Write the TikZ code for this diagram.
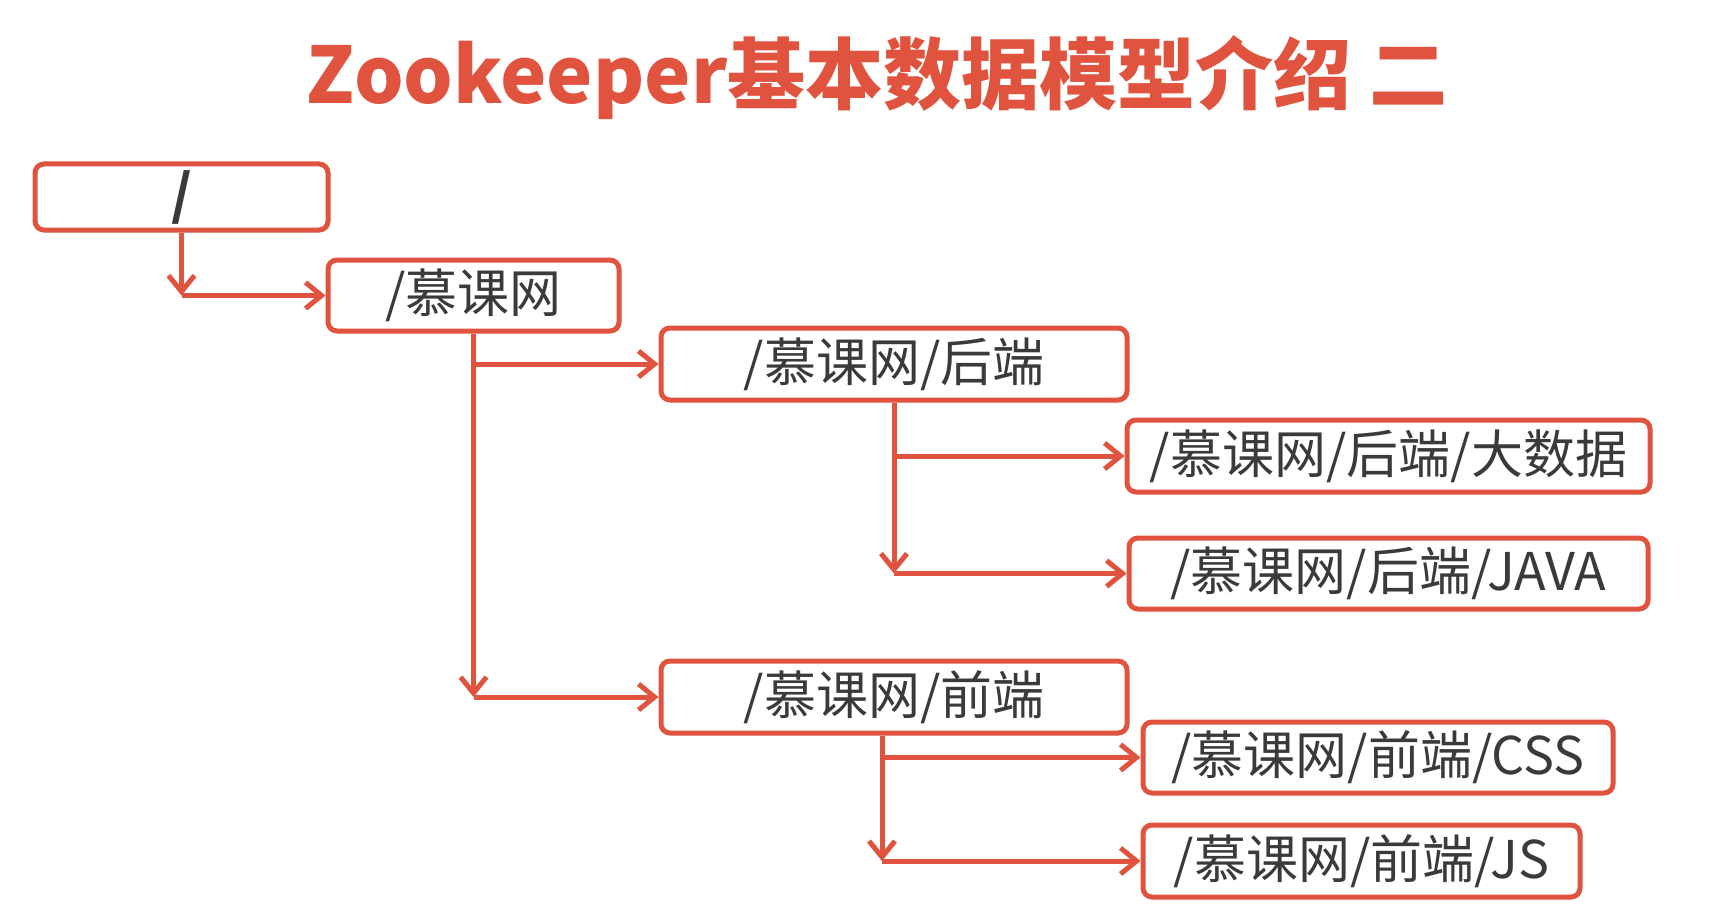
\documentclass[tikz,border=0pt]{standalone}
\usepackage{fontspec}
\setmainfont{Noto Sans CJK SC}
\usetikzlibrary{arrows.meta,shadows}
\definecolor{zred}{HTML}{E0533F}
\definecolor{ztext}{HTML}{3A3A3A}
\begin{document}
\begin{tikzpicture}[x=1pt,y=-1pt,
  box/.style={draw=zred, line width=5pt, rounded corners=9pt, fill=white, text=ztext,
    font=\fontsize{52}{56}\selectfont, inner sep=0pt, anchor=center,
    drop shadow={shadow xshift=2pt, shadow yshift=-2pt, opacity=0.18, fill=black}},
  conn/.style={draw=zred, line width=5pt, -{Straight Barb[length=16pt,width=26pt]}}
]
\fill[white] (0,0) rectangle (1715,912);
\useasboundingbox (0,0) rectangle (1715,912);

\node[text=zred, font=\fontsize{78}{80}\selectfont\bfseries] (title) at (877,78) {Zookeeper基本数据模型介绍 二};

\node[box, minimum width=293pt, minimum height=66pt, font=\fontsize{54}{56}\selectfont\bfseries] (root) at (181.5,197) {/};
\node[box, minimum width=291pt, minimum height=71pt] (b1) at (473.5,295.5) {/慕课网};
\node[box, minimum width=466pt, minimum height=72pt] (b2) at (894,364) {/慕课网/后端};
\node[box, minimum width=523pt, minimum height=72pt] (b3) at (1388.5,456) {/慕课网/后端/大数据};
\node[box, minimum width=519pt, minimum height=71pt] (b4) at (1388.5,573.5) {/慕课网/后端/JAVA};
\node[box, minimum width=466pt, minimum height=72pt] (b5) at (894,697) {/慕课网/前端};
\node[box, minimum width=470pt, minimum height=71pt] (b6) at (1378,757.5) {/慕课网/前端/CSS};
\node[box, minimum width=437pt, minimum height=72pt] (b7) at (1361.5,861) {/慕课网/前端/JS};

% root -> b1
\coordinate (c0) at (root.south |- b1.west);
\draw[conn] (root.south) -- (c0);
\draw[conn] (c0) -- (b1.west);

% b1 -> b2, b5
\coordinate (c1a) at (b1.south |- b2.west);
\coordinate (c1b) at (b1.south |- b5.west);
\draw[conn] (b1.south) -- (c1b);
\draw[conn] (c1a) -- (b2.west);
\draw[conn] (c1b) -- (b5.west);

% b2 -> b3, b4
\coordinate (c2a) at (b2.south |- b3.west);
\coordinate (c2b) at (b2.south |- b4.west);
\draw[conn] (b2.south) -- (c2b);
\draw[conn] (c2a) -- (b3.west);
\draw[conn] (c2b) -- (b4.west);

% b5 -> b6, b7
\coordinate (v5) at ([xshift=-12pt]b5.south);
\coordinate (c5a) at (v5 |- b6.west);
\coordinate (c5b) at (v5 |- b7.west);
\draw[conn] (v5) -- (c5b);
\draw[conn] (c5a) -- (b6.west);
\draw[conn] (c5b) -- (b7.west);
\end{tikzpicture}
\end{document}
